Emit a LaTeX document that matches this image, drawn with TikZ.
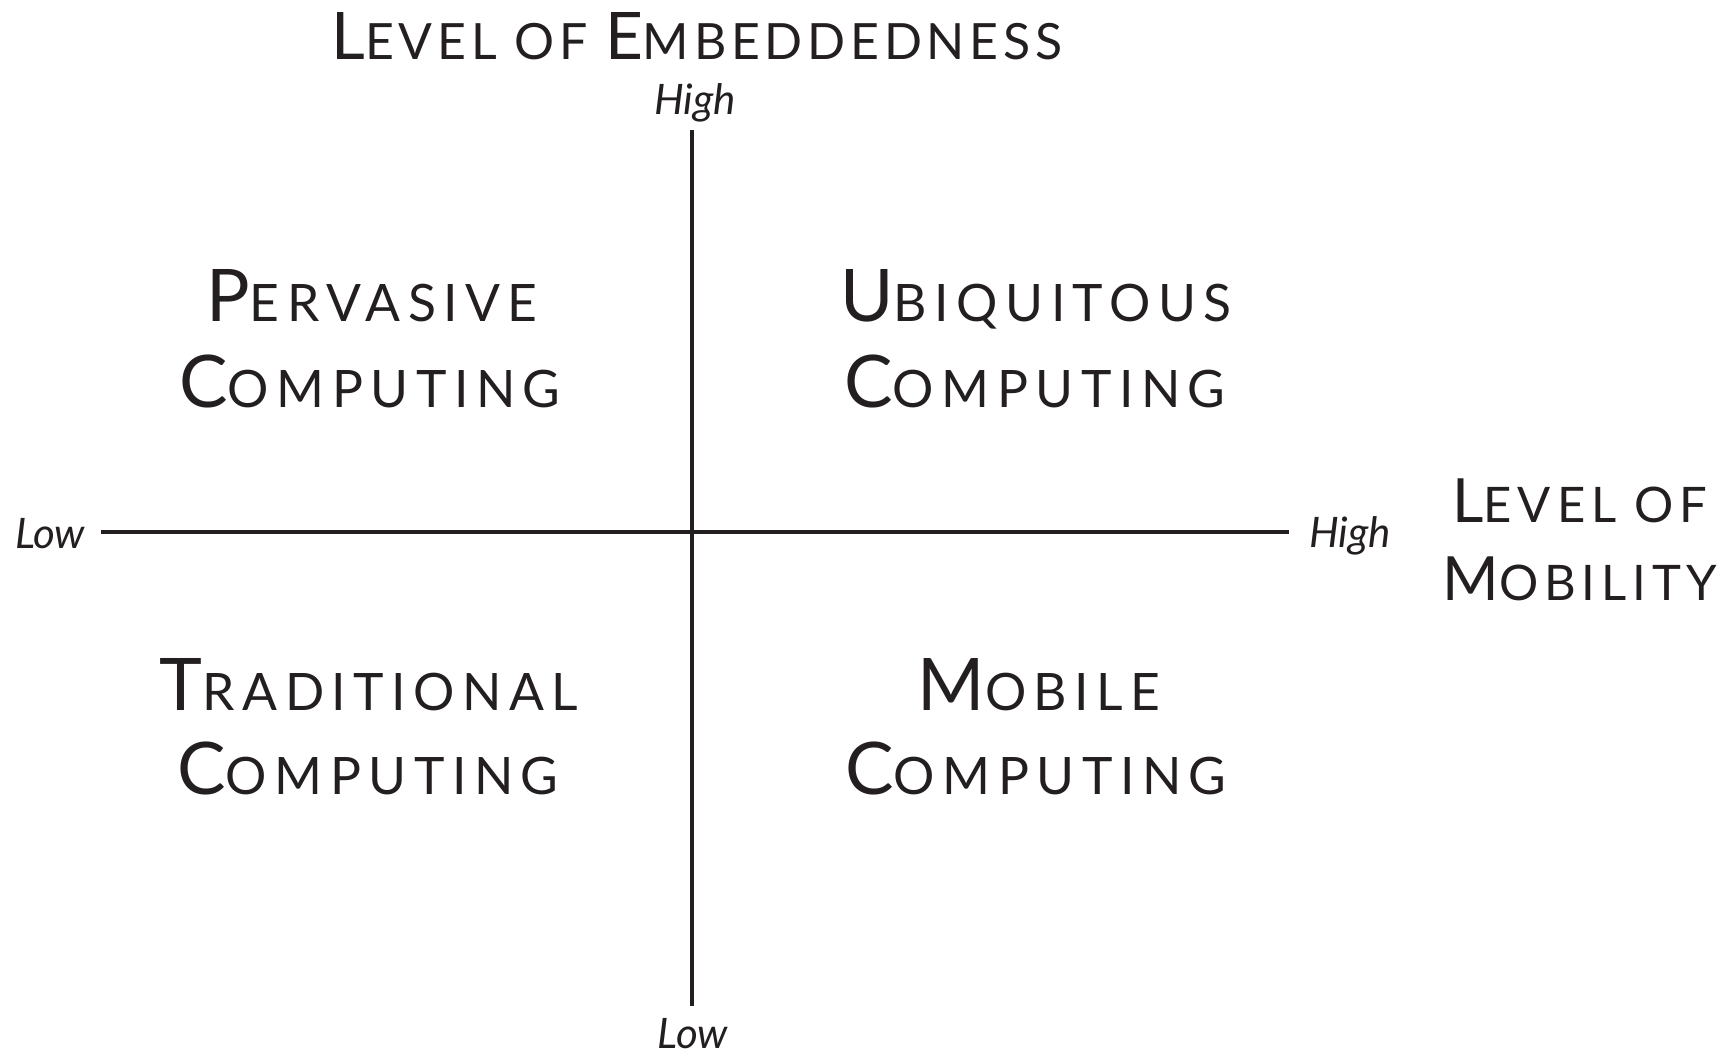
\documentclass[tikz,border=0pt]{standalone}
\usepackage{fontspec}
\setmainfont{Lato}
\definecolor{ink}{HTML}{231F20}
\newcommand\QB{\fontsize{72.6}{86}\selectfont\addfontfeature{LetterSpace=14.5}}
\newcommand\QS{\fontsize{51.6}{86}\selectfont\addfontfeature{LetterSpace=14.5}}
\newcommand\TB{\fontsize{65.6}{80}\selectfont\addfontfeature{LetterSpace=9.5}}
\newcommand\TS{\fontsize{50}{80}\selectfont\addfontfeature{LetterSpace=9.5}}
\newcommand\MB{\fontsize{61}{80}\selectfont\addfontfeature{LetterSpace=12}}
\newcommand\MS{\fontsize{49}{80}\selectfont\addfontfeature{LetterSpace=12}}
\newcommand\Lbl{\fontsize{42}{50}\selectfont\itshape}
\begin{document}
\begin{tikzpicture}[x=1pt,y=-1pt,
  every node/.style={inner sep=0pt,outer sep=0pt,text=ink},
  lab/.style={anchor=base},
  axis/.style={draw=ink,line width=3.3pt}]
\useasboundingbox (0,0) rectangle (1725,1054);
% axes
\coordinate (top) at (692,130);
\coordinate (bot) at (692,1006);
\coordinate (lft) at (101,532);
\coordinate (rgt) at (1289,532);
\draw[axis] (top) -- (bot);
\draw[axis] (lft) -- (rgt);
% title
\node[lab] (title) at (697,60) {{\TB L}{\TS EVEL OF }{\TB E}{\TS MBEDDEDNESS}};
\node[lab] (hightop) at (695,115) {\Lbl High};
\node[lab] (lowbot) at (693,1048) {\Lbl Low};
\node[lab,anchor=base west] (lowleft) at (15,548) {\Lbl Low};
\node[lab,anchor=base west] (highright) at (1309,547) {\Lbl High};
\node[lab] (mob1) at (1580,522) {{\MB L}{\MS EVEL OF}};
\node[lab] (mob2) at (1580,600) {{\MB M}{\MS OBILITY}};
% quadrants
\node[lab] (perv1) at (372,321) {{\QB P}{\QS ERVASIVE}};
\node[lab] (perv2) at (370,407) {{\QB C}{\QS OMPUTING}};
\node[lab] (ubi1) at (1036,321) {{\QB U}{\QS BIQUITOUS}};
\node[lab] (ubi2) at (1035,407) {{\QB C}{\QS OMPUTING}};
\node[lab] (trad1) at (369,710) {{\QB T}{\QS RADITIONAL}};
\node[lab] (trad2) at (368,794) {{\QB C}{\QS OMPUTING}};
\node[lab] (mobq1) at (1039,710) {{\QB M}{\QS OBILE}};
\node[lab] (mobq2) at (1036,794) {{\QB C}{\QS OMPUTING}};
\end{tikzpicture}
\end{document}
